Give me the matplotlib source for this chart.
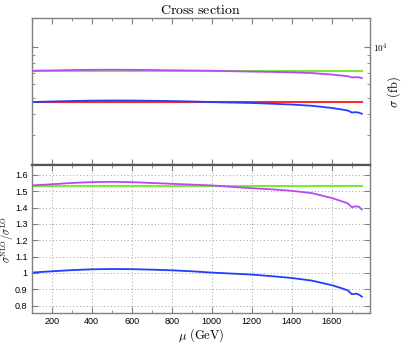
import matplotlib
matplotlib.use("Agg")
import matplotlib.pyplot as plt
from matplotlib.ticker import MultipleLocator, LogLocator, NullFormatter, FixedLocator

plt.rcParams["mathtext.fontset"] = "cm"
plt.rcParams["font.family"] = ["Liberation Sans", "DejaVu Sans"]

# scale mu (GeV)
mu = [100, 200, 300, 400, 500, 600, 700, 800, 900, 1000, 1100, 1200, 1300,
      1400, 1500, 1600, 1650, 1680, 1700, 1720, 1735, 1750]

# cross sections (fb)
sigma_lo = 4700
sigma_nlo = 7200
sigma_lo_mu = [4709, 4747, 4780, 4803, 4813, 4808, 4794, 4775, 4747, 4709, 4681,
               4653, 4606, 4554, 4479, 4348, 4258, 4197, 4089, 4103, 4080, 4019]
sigma_nlo_mu = [7215, 7247, 7285, 7309, 7318, 7309, 7285, 7262, 7238, 7215, 7172,
                7135, 7102, 7059, 6994, 6853, 6759, 6698, 6589, 6613, 6604, 6524]

# ratios to LO
k_const = 1.533
k_lo_mu = [1.002, 1.010, 1.017, 1.022, 1.024, 1.023, 1.020, 1.016, 1.010, 1.002, 0.996,
           0.990, 0.980, 0.969, 0.953, 0.925, 0.906, 0.893, 0.870, 0.873, 0.868, 0.855]
k_nlo_mu = [1.535, 1.542, 1.550, 1.555, 1.557, 1.555, 1.550, 1.545, 1.540, 1.535, 1.526,
            1.518, 1.511, 1.502, 1.488, 1.458, 1.438, 1.425, 1.402, 1.407, 1.405, 1.388]

green = "#7ee83a"
purple = "#b44cf0"
red = "#ff2a2a"
blue = "#1f40ff"
frame = "#808080"

fig = plt.figure(figsize=(4.03, 3.43), dpi=100)
ax1 = fig.add_axes([0.0787, 0.519, 0.839, 0.4285])
ax2 = fig.add_axes([0.0787, 0.0875, 0.839, 0.4315])

# top panel
ax1.plot([mu[0], mu[-1]], [sigma_nlo, sigma_nlo], color=green, lw=1.5)
ax1.plot(mu, sigma_nlo_mu, color=purple, lw=1.3)
ax1.plot([mu[0], mu[-1]], [sigma_lo, sigma_lo], color=red, lw=1.5)
ax1.plot(mu, sigma_lo_mu, color=blue, lw=1.3)
ax1.set_yscale("log")
ax1.set_ylim(2000, 14800)
ax1.set_xlim(100, 1790)
ax1.yaxis.set_major_locator(FixedLocator([10000]))
ax1.yaxis.set_major_formatter(matplotlib.ticker.FixedFormatter([r"$10^4$"]))
ax1.yaxis.set_minor_locator(LogLocator(base=10, subs=range(2, 10)))
ax1.yaxis.set_minor_formatter(NullFormatter())
ax1.yaxis.tick_right()
ax1.yaxis.set_label_position("right")
ax1.set_ylabel(r"$\sigma\ \mathrm{(fb)}$", fontsize=9)
ax1.yaxis.set_label_coords(1.046, 0.5)
ax1.xaxis.set_major_locator(MultipleLocator(200))
ax1.xaxis.set_minor_locator(MultipleLocator(100))
ax1.tick_params(axis="both", which="both", direction="in", top=True, bottom=True,
                left=True, right=True, labelbottom=False, colors=frame, labelcolor="black",
                labelsize=6.5, pad=2)
ax1.tick_params(which="major", length=4)
ax1.tick_params(which="minor", length=2.5)
ax1.set_title(r"$\mathrm{Cross\ section}$", fontsize=10, pad=3)

# bottom panel
ax2.plot([mu[0], mu[-1]], [k_const, k_const], color=green, lw=1.5)
ax2.plot(mu, k_nlo_mu, color=purple, lw=1.3)
ax2.plot(mu, k_lo_mu, color=blue, lw=1.3)
ax2.set_xlim(100, 1790)
ax2.set_ylim(0.755, 1.66)
ax2.xaxis.set_major_locator(MultipleLocator(200))
ax2.xaxis.set_minor_locator(MultipleLocator(100))
ax2.yaxis.set_major_locator(MultipleLocator(0.1))
ax2.yaxis.set_major_formatter(matplotlib.ticker.FuncFormatter(lambda v, p: f"{v:g}"))
ax2.grid(True, which="major", linestyle=(0, (1, 2.5)), color="#a0a0a0", lw=0.7)
ax2.tick_params(axis="both", which="both", direction="in", top=True, right=True,
                colors=frame, labelcolor="black", labelsize=6.5, pad=3)
ax2.tick_params(which="major", length=4)
ax2.tick_params(which="minor", length=2.5)
ax2.set_xlabel(r"$\mu\ \mathrm{(GeV)}$", fontsize=9)
ax2.xaxis.set_label_coords(0.5, -0.088)
ax2.set_ylabel(r"$\sigma^{\rm NLO}/\sigma^{\rm LO}$", fontsize=7.5)
ax2.yaxis.set_label_coords(-0.047, 0.5)

for ax in (ax1, ax2):
    for s in ax.spines.values():
        s.set_color(frame)
        s.set_linewidth(1.0)
ax1.spines["bottom"].set_linewidth(1.6)
ax1.spines["bottom"].set_color("#555555")
ax2.spines["top"].set_linewidth(1.6)
ax2.spines["top"].set_color("#555555")

fig.savefig("out.png", dpi=100)
